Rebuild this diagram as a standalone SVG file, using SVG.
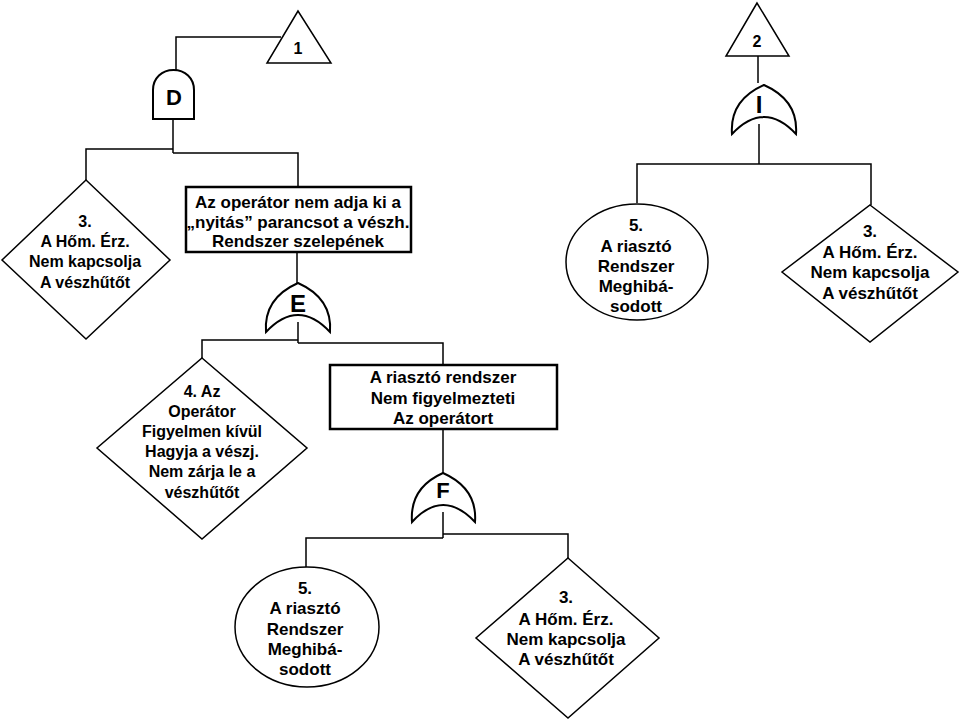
<svg xmlns="http://www.w3.org/2000/svg" width="960" height="723" viewBox="0 0 960 723">
<style>
.s{fill:#fff;stroke:#000;stroke-width:1.5}
.b{fill:#fff;stroke:#000;stroke-width:2.5}
.g{fill:#fff;stroke:#000;stroke-width:2}
.c{fill:none;stroke:#000;stroke-width:1.5}
text{font-family:"Liberation Sans",Arial,sans-serif;font-weight:bold;fill:#000;text-anchor:middle}
.t{font-size:17px}
.t16{font-size:16px}
</style>
<rect width="960" height="723" fill="#fff"/>
<g id="connectors">
<polyline class="c" points="281,37 176,37 176,70"/>
<polyline class="c" points="173,119 173,153"/>
<polyline class="c" points="173,149 86,149 86,180"/>
<polyline class="c" points="173,153 298,153 298,188"/>
<polyline class="c" points="297,252 297,283"/>
<polyline class="c" points="298,322 298,343"/>
<polyline class="c" points="298,340 202,340 202,358"/>
<polyline class="c" points="298,343 443,343 443,365"/>
<polyline class="c" points="443,429 443,473"/>
<polyline class="c" points="443,512 443,538"/>
<polyline class="c" points="443,538 306,538 306,567"/>
<polyline class="c" points="443,534 568,534 568,558"/>
<polyline class="c" points="758,56 758,83"/>
<polyline class="c" points="759,124 759,164"/>
<polyline class="c" points="637,203 637,164 871,164 871,205"/>
</g>
<g id="T1">
<polygon class="s" points="298,11 267,63 331,63"/>
<text class="t16" x="298" y="54">1</text>
</g>
<g id="T2">
<polygon class="s" points="757,3 726,56 789,56"/>
<text class="t16" x="757" y="47">2</text>
</g>
<g id="D">
<path class="g" d="M153,119 V90 C153,78 162,70 173.5,70 C185,70 194,78 194,90 V119 Z"/>
<text x="174" y="105" font-size="22">D</text>
</g>
<g id="I">
<path class="g" d="M764,85 C746,93 730,107 732,134 Q764,100 796,134 C798,107 782,93 764,85 Z"/>
<text x="759" y="113" font-size="24">I</text>
</g>
<g id="E">
<path class="g" d="M298,283 C280,291 264,305 266,332 Q298,298 330,332 C332,305 316,291 298,283 Z"/>
<text x="298" y="312" font-size="24">E</text>
</g>
<g id="F">
<path class="g" d="M443,473 C425,481 410,495 412,522 Q443,488 475,522 C477,495 461,481 443,473 Z"/>
<text x="443" y="498" font-size="22">F</text>
</g>
<g id="box1">
<rect class="b" x="186" y="187" width="225" height="65"/>
<text class="t" x="298" y="208">Az operátor nem adja ki a</text>
<text class="t" x="298" y="228">„nyitás” parancsot a vészh.</text>
<text class="t" x="298" y="247">Rendszer szelepének</text>
</g>
<g id="box2">
<rect class="b" x="330" y="365" width="227" height="64"/>
<text class="t" x="443" y="383">A riasztó rendszer</text>
<text class="t" x="443" y="404">Nem figyelmezteti</text>
<text class="t" x="443" y="424">Az operátort</text>
</g>
<g id="dia3a">
<polygon class="s" points="86,180 170,260 86,339 2,260"/>
<text class="t16" x="85" y="227">3.</text>
<text class="t16" x="85" y="247">A Hőm. Érz.</text>
<text class="t16" x="85" y="267">Nem kapcsolja</text>
<text class="t16" x="85" y="288">A vészhűtőt</text>
</g>
<g id="ell5a">
<ellipse class="s" cx="637" cy="262" rx="71" ry="58"/>
<text class="t" x="636" y="231">5.</text>
<text class="t" x="636" y="252">A riasztó</text>
<text class="t" x="636" y="272">Rendszer</text>
<text class="t" x="636" y="292">Meghibá-</text>
<text class="t" x="636" y="312">sodott</text>
</g>
<g id="dia3b">
<polygon class="s" points="870,205 958,272 870,342 782,272"/>
<text class="t" x="870" y="237">3.</text>
<text class="t" x="870" y="258">A Hőm. Érz.</text>
<text class="t" x="870" y="278">Nem kapcsolja</text>
<text class="t" x="870" y="299">A vészhűtőt</text>
</g>
<g id="dia4">
<polygon class="s" points="202,358 307,448 202,539 97,448"/>
<text class="t16" x="202" y="397">4. Az</text>
<text class="t16" x="202" y="417">Operátor</text>
<text class="t16" x="202" y="437">Figyelmen kívül</text>
<text class="t16" x="202" y="457">Hagyja a vészj.</text>
<text class="t16" x="202" y="477">Nem zárja le a</text>
<text class="t16" x="202" y="498">vészhűtőt</text>
</g>
<g id="ell5b">
<ellipse class="s" cx="307" cy="627" rx="72" ry="60"/>
<text class="t" x="305" y="594">5.</text>
<text class="t" x="305" y="614">A riasztó</text>
<text class="t" x="305" y="635">Rendszer</text>
<text class="t" x="305" y="655">Meghibá-</text>
<text class="t" x="305" y="675">sodott</text>
</g>
<g id="dia3c">
<polygon class="s" points="568,558 659,638 568,718 476,638"/>
<text class="t" x="566" y="603">3.</text>
<text class="t" x="566" y="625">A Hőm. Érz.</text>
<text class="t" x="566" y="645">Nem kapcsolja</text>
<text class="t" x="566" y="665">A vészhűtőt</text>
</g>
</svg>
